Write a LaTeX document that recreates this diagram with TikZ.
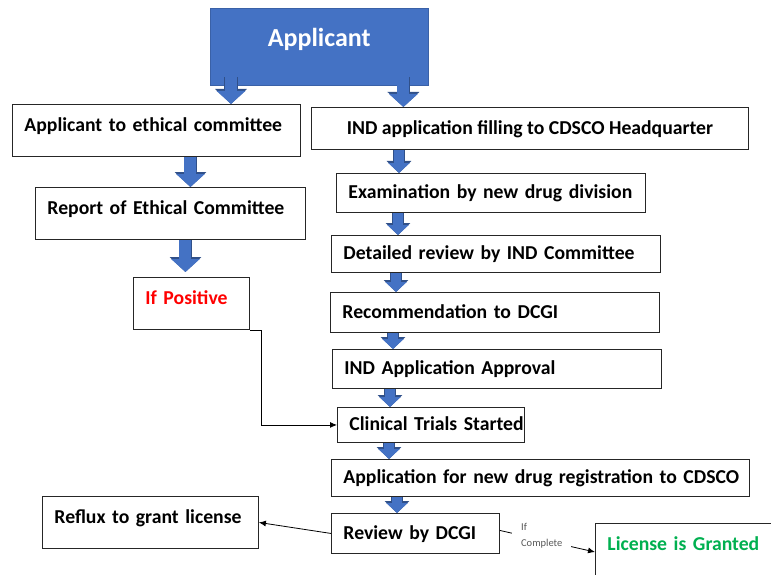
\documentclass[tikz,border=0pt]{standalone}
\usepackage{fontspec}
\setmainfont{Carlito}
\usepackage{tikz}
\usetikzlibrary{arrows.meta}
\definecolor{appblue}{HTML}{4472C4}
\definecolor{okgreen}{HTML}{00B050}

\begin{document}
\begin{tikzpicture}[x=1pt, y=-1pt,
  every node/.style = {font=\fontsize{19.7}{24}\selectfont\bfseries},
  box/.style = {draw=black!85, line width=0.9pt, fill=white, anchor=north west,
    align=left, inner xsep=12pt, inner ysep=0pt, text height=16pt, text depth=4pt,
    execute at begin node={\hbox\bgroup}, execute at end node={\egroup}},
  tallbox/.style = {box, inner ysep=6pt, text height=21pt, text depth=19pt},
  bigarrow/.style = {draw=appblue, line width=12pt, -{Triangle[width=28pt,length=13pt]},
    preaction={draw=appblue!70!black, line width=13.6pt, -{Triangle[width=31pt,length=15pt]}}},
  smallarrow/.style = {draw=appblue, line width=10pt, -{Triangle[width=21pt,length=10pt]},
    preaction={draw=appblue!70!black, line width=11.6pt, -{Triangle[width=24pt,length=12pt]}}},
  link/.style = {draw=black, line width=0.8pt, -{Latex[length=7pt,width=6pt]}}
  ]
  \clip (0,0) rectangle (771,575);

  \node[anchor=north west, fill=appblue, draw=appblue!85!black, text=white,
    font=\fontsize{26}{30}\selectfont\bfseries, minimum width=218pt,
    minimum height=77pt, text height=14pt, text depth=14pt] (applicant) at (210,8) {Applicant};

  % ethical committee branch
  \node[tallbox, text width=264pt] (ethics) at (12,104) {Applicant to ethical committee};
  \node[tallbox, text width=246pt] (ecreport) at (35,187) {Report of Ethical Committee};
  \node[tallbox, text width=92pt, text=red] (positive) at (133,277) {If Positive};

  % CDSCO branch
  \node[box, minimum width=437pt, minimum height=42pt] (filing) at (311,107) {IND application filling to CDSCO Headquarter};
  \node[box, text width=285pt, minimum height=39pt] (exam) at (336,173) {Examination by new drug division};
  \node[box, text width=305pt, minimum height=37pt] (review) at (331,235) {Detailed review by IND Committee};
  \node[box, text width=305pt, minimum height=40pt] (recommend) at (330,292) {Recommendation to DCGI};
  \node[box, text width=305pt, minimum height=39pt] (approval) at (332,349) {IND Application Approval};
  \node[box, text width=163pt, minimum height=35pt] (trials) at (337,407) {Clinical Trials Started};
  \node[box, text width=394pt, minimum height=37pt] (register) at (331,459) {Application for new drug registration to CDSCO};
  \node[box, text width=144pt, minimum height=40pt] (dcgi) at (331,513) {Review by DCGI};

  % outcomes
  \node[tallbox, text width=192pt] (reflux) at (42,496) {Reflux to grant license};
  \node[tallbox, text width=170pt, text=okgreen, text depth=40pt] (granted) at (595,523) {License is Granted};

  % block arrows
  \draw[bigarrow] ([xshift=21pt,yshift=8pt]applicant.south west) -- ([xshift=21pt]applicant.south west |- ethics.north);
  \draw[bigarrow] ([xshift=-25pt,yshift=8pt]applicant.south east) -- ([xshift=-25pt]applicant.south east |- filing.north);
  \draw[bigarrow] ([xshift=34pt]ethics.south) -- ([xshift=34pt]ethics.south |- ecreport.north);
  \draw[bigarrow] ([xshift=15pt]ecreport.south) -- ([xshift=15pt,yshift=5pt]ecreport.south |- positive.north);
  \foreach \a/\b/\x in {filing/exam/399, exam/review/398, review/recommend/396,
      recommend/approval/393, approval/trials/390, trials/register/389, register/dcgi/397}
    \draw[smallarrow] (\x,0 |- \a.south) -- (\x,0 |- \b.north);

  % thin connectors
  \draw[link] (positive.south east) -- ++(11,0) |- (trials.west);
  \draw[link] (dcgi.west) -- (reflux.east);
  \draw[link] ([yshift=3pt]dcgi.east) -- node[pos=0.44, yshift=4pt, fill=white, align=left,
    inner xsep=9pt, inner ysep=2pt, text=black!65, font=\fontsize{10.5}{16}\selectfont] {If\\Complete}
    ([yshift=-29pt]granted.north west);
\end{tikzpicture}
\end{document}
